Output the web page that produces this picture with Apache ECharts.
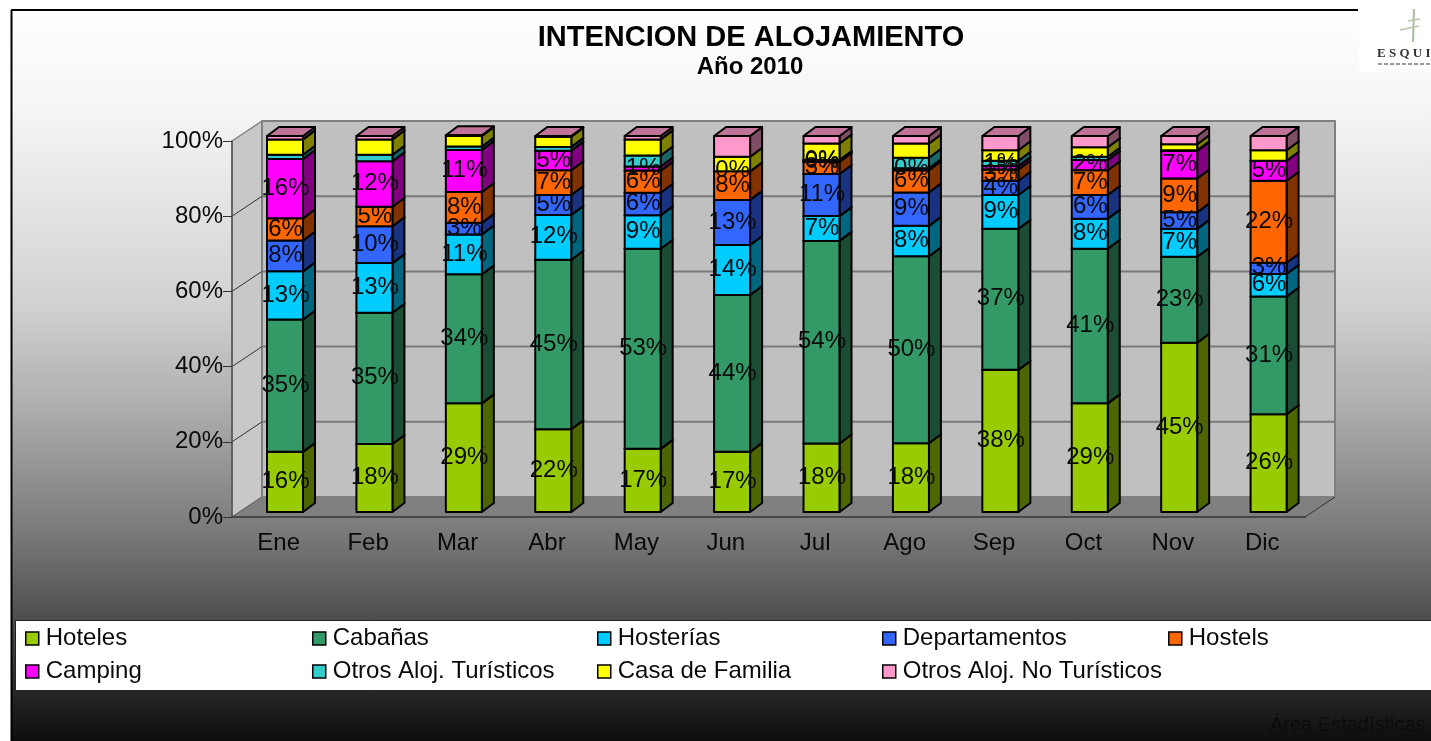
<!DOCTYPE html>
<html>
<head>
<meta charset="utf-8">
<title>Intencion de alojamiento</title>
<script src="https://cdn.jsdelivr.net/npm/echarts@6/dist/echarts.min.js"></script>
<style>
	html, body { margin: 0; padding: 0; background: #fff; overflow: hidden; }
	#chart { width: 1431px; height: 741px; }
</style>
</head>
<body>
<div id="chart"></div>
<script>
var months = [ 'Ene', 'Feb', 'Mar', 'Abr', 'May', 'Jun', 'Jul', 'Ago', 'Sep', 'Oct', 'Nov', 'Dic' ];

// alturas (% del total de cada mes)
var hoteles      = [ 16, 18.1, 28.9, 22, 16.8, 16, 18.2, 18.3, 37.8, 28.9, 45, 26 ];
var cabanas      = [ 35.2, 34.9, 34.3, 45.1, 53.2, 41.7, 53.9, 49.7, 37.5, 41.1, 22.9, 31.3 ];
var hosterias    = [ 12.8, 13.2, 10.6, 11.9, 8.9, 13.3, 6.6, 8.1, 9, 8, 7.4, 6 ];
var departamentos = [ 8.2, 9.8, 3.1, 5.3, 6, 12, 11.2, 8.9, 3.8, 6.3, 4.4, 3 ];
var hostels      = [ 5.9, 5.2, 8.2, 6.6, 5.9, 7.6, 3.2, 5.9, 3, 6.6, 9, 21.8 ];
var camping      = [ 15.8, 12.1, 11.2, 5.2, 1.1, 0, 0.2, 0.5, 0.9, 2.7, 7.3, 5.3 ];
var otrosTur     = [ 1.1, 1.7, 0.9, 1, 2.9, 0, 0.3, 2.8, 1.4, 0.9, 0.2, 0 ];
var casaFamilia  = [ 4.1, 4.1, 2.8, 2.7, 4.3, 3.9, 4.4, 3.8, 2.8, 2.5, 1.6, 2.8 ];
var otrosNoTur   = [ 0.9, 0.9, 0.2, 0.2, 0.9, 5.5, 2, 2, 3.8, 3, 2.2, 3.8 ];

// etiquetas que muestra el grafico (null = sin etiqueta)
var lblHoteles   = [ 16, 18, 29, 22, 17, 17, 18, 18, 38, 29, 45, 26 ];
var lblCabanas   = [ 35, 35, 34, 45, 53, 44, 54, 50, 37, 41, 23, 31 ];
var lblHosterias = [ 13, 13, 11, 12, 9, 14, 7, 8, 9, 8, 7, 6 ];
var lblDeptos    = [ 8, 10, 3, 5, 6, 13, 11, 9, 4, 6, 5, 3 ];
var lblHostels   = [ 6, 5, 8, 7, 6, 8, 3, 6, 3, 7, 9, 22 ];
var lblCamping   = [ 16, 12, 11, 5, 1, 0, 0, 0, 1, 2, 7, 5 ];
var lblOtrosTur  = [ null, null, null, null, null, null, 0, null, 1, null, null, null ];

var stack = [
	{ name : 'Hoteles', values : hoteles, labels : lblHoteles, front : '#99cc00', side : '#4d6600', top : '#739900' },
	{ name : 'Cabañas', values : cabanas, labels : lblCabanas, front : '#339966', side : '#1a4d33', top : '#26734d' },
	{ name : 'Hosterías', values : hosterias, labels : lblHosterias, front : '#00ccff', side : '#006680', top : '#0099bf' },
	{ name : 'Departamentos', values : departamentos, labels : lblDeptos, front : '#3366ff', side : '#1a3380', top : '#264dbf' },
	{ name : 'Hostels', values : hostels, labels : lblHostels, front : '#ff6600', side : '#803300', top : '#bf4d00' },
	{ name : 'Camping', values : camping, labels : lblCamping, front : '#ff00ff', side : '#800080', top : '#bf00bf' },
	{ name : 'Otros Aloj. Turísticos', values : otrosTur, labels : lblOtrosTur, front : '#33cccc', side : '#1a6666', top : '#269999' },
	{ name : 'Casa de Familia', values : casaFamilia, labels : null, front : '#ffff00', side : '#808000', top : '#bfbf00' },
	{ name : 'Otros Aloj. No Turísticos', values : otrosNoTur, labels : null, front : '#ff99cc', side : '#804d66', top : '#bf7399' }
];

var FONT = '"Liberation Sans", Arial, sans-serif';
var WALL_DX = 30, WALL_DY = -20;   // fondo del grafico 3D
var BAR_W = 36, BAR_DX = 12, BAR_DY = -9;   // columna
var BAR_SHIFT_X = 8.3, BAR_SHIFT_Y = -5;   // la columna no esta pegada al plano frontal

function poly(points, fill, stroke, lineWidth) {
	return {
		type : 'polygon',
		shape : { points : points },
		style : { fill : fill, stroke : stroke, lineWidth : lineWidth, lineJoin : 'round' }
	};
}

function renderWalls(params, api) {
	var cs = params.coordSys;
	var x0 = cs.x, x1 = cs.x + cs.width, y0 = cs.y, y1 = cs.y + cs.height;
	var ch = [
		poly([ [ x0, y0 ], [ x0 + WALL_DX, y0 + WALL_DY ], [ x0 + WALL_DX, y1 + WALL_DY ], [ x0, y1 ] ], '#c8c8c8', '#808080', 1.5),
		poly([ [ x0 + WALL_DX, y0 + WALL_DY ], [ x1 + WALL_DX, y0 + WALL_DY ], [ x1 + WALL_DX, y1 + WALL_DY ], [ x0 + WALL_DX, y1 + WALL_DY ] ], '#c0c0c0', '#808080', 2),
		poly([ [ x0, y1 ], [ x0 + WALL_DX, y1 + WALL_DY ], [ x1 + WALL_DX, y1 + WALL_DY ], [ x1, y1 ] ], '#808080', '#808080', 1)
	];
	for (var v = 20; v < 100; v += 20) {
		var y = api.coord([ 0, v ])[1];
		ch.push({
			type : 'line',
			shape : { x1 : x0 + WALL_DX, y1 : y + WALL_DY, x2 : x1 + WALL_DX, y2 : y + WALL_DY },
			style : { stroke : '#7a7a7a', lineWidth : 2 }
		});
		ch.push({
			type : 'line',
			shape : { x1 : x0, y1 : y, x2 : x0 + WALL_DX, y2 : y + WALL_DY },
			style : { stroke : '#333', lineWidth : 1 }
		});
	}
	ch.push({
		type : 'line',
		shape : { x1 : x0, y1 : y1, x2 : x0 + WALL_DX, y2 : y1 + WALL_DY },
		style : { stroke : '#666', lineWidth : 1 }
	});
	ch.push({
		type : 'line',
		shape : { x1 : x1, y1 : y1, x2 : x1 + WALL_DX, y2 : y1 + WALL_DY },
		style : { stroke : '#333', lineWidth : 1 }
	});
	return { type : 'group', children : ch };
}

function makeRenderBar(cfg) {
	return function(params, api) {
		var idx = api.value(0);
		var low = api.coord([ idx, api.value(1) ]);
		var high = api.coord([ idx, api.value(2) ]);
		var ch = [];
		var l = low[0] + BAR_SHIFT_X - BAR_W / 2, r = l + BAR_W;
		var yb = low[1] + BAR_SHIFT_Y, yt = high[1] + BAR_SHIFT_Y;
		if (yb - yt > 0.1) {
			ch.push(poly([ [ r, yb ], [ r + BAR_DX, yb + BAR_DY ], [ r + BAR_DX, yt + BAR_DY ], [ r, yt ] ], cfg.side, '#000', 2));
			ch.push(poly([ [ l, yt ], [ r, yt ], [ r + BAR_DX, yt + BAR_DY ], [ l + BAR_DX, yt + BAR_DY ] ], cfg.top, '#000', 2));
			ch.push(poly([ [ l, yb ], [ r, yb ], [ r, yt ], [ l, yt ] ], cfg.front, '#000', 2));
		}
		var lbl = cfg.labels ? cfg.labels[idx] : null;
		if (lbl !== null && lbl !== undefined) {
			ch.push({
				type : 'text',
				x : l + BAR_W / 2 + 0.5,
				y : (yb + yt) / 2 - 0.5,
				z2 : 100,
				style : {
					text : lbl + '%',
					align : 'center',
					verticalAlign : 'middle',
					fill : '#0a0a0a',
					font : '24px ' + FONT
				}
			});
		}
		return { type : 'group', children : ch };
	};
}

function genSeries() {
	var series = [ {
		type : 'custom',
		silent : true,
		z : 1,
		data : [ [ 0 ] ],
		renderItem : renderWalls
	} ];
	var base = months.map(function() { return 0; });
	stack.forEach(function(cfg) {
		var data = cfg.values.map(function(v, i) {
			var item = [ i, base[i], base[i] + v ];
			base[i] += v;
			return item;
		});
		series.push({
			name : cfg.name,
			type : 'custom',
			z : 2,
			itemStyle : { color : cfg.front },
			encode : { x : 0, y : 2 },
			data : data,
			renderItem : makeRenderBar(cfg)
		});
	});
	return series;
}

// leyenda en 5 columnas y 2 filas
function genLegend() {
	var cols = [ 25, 312, 597, 882, 1168 ];
	return cols.map(function(left, c) {
		var names = [ stack[c].name ];
		if (stack[c + 5]) {
			names.push(stack[c + 5].name);
		}
		return {
			orient : 'vertical',
			left : left,
			top : 626,
			padding : 0,
			itemWidth : 13,
			itemHeight : 13,
			itemGap : 8,
			selectedMode : false,
			icon : 'rect',
			itemStyle : { borderColor : '#000', borderWidth : 1.5 },
			textStyle : { color : '#0a0a0a', fontFamily : FONT, fontSize : 24, padding : [ 0, 0, 0, 2 ], lineHeight : 25 },
			data : names
		};
	});
}

function genGraphic() {
	return { elements : [ {
		type : 'rect',
		z : -2,
		shape : { x : 11, y : 10, width : 1420, height : 731 },
		style : {
			fill : new echarts.graphic.LinearGradient(0, 0, 0, 1, [
				{ offset : 0, color : '#ffffff' },
				{ offset : 0.13, color : '#f6f6f6' },
				{ offset : 0.4, color : '#d2d2d2' },
				{ offset : 0.535, color : '#b0b0b0' },
				{ offset : 0.72, color : '#787878' },
				{ offset : 0.81, color : '#565656' },
				{ offset : 0.94, color : '#242424' },
				{ offset : 1, color : '#0d0d0d' }
			])
		}
	}, {
		type : 'line', z : -1,
		shape : { x1 : 11.5, y1 : 10, x2 : 11.5, y2 : 741 },
		style : { stroke : '#000', lineWidth : 2 }
	}, {
		type : 'line', z : -1,
		shape : { x1 : 11, y1 : 10, x2 : 1358, y2 : 10 },
		style : { stroke : '#000', lineWidth : 2 }
	}, {
		type : 'rect', z : -1,
		shape : { x : 1359, y : 0, width : 72, height : 72 },
		style : { fill : '#fff' }
	}, {
		type : 'rect', z : -1,
		shape : { x : 15.5, y : 620.5, width : 1420, height : 70 },
		style : { fill : '#fff', stroke : '#222', lineWidth : 1 }
	}, {
		// arbolito del logo
		type : 'line', z : 1,
		shape : { x1 : 1414, y1 : 9, x2 : 1413, y2 : 42 },
		style : { stroke : '#a9bd9a', lineWidth : 2 }
	}, {
		type : 'line', z : 1,
		shape : { x1 : 1408, y1 : 21, x2 : 1420, y2 : 19 },
		style : { stroke : '#b7c7ab', lineWidth : 1.5 }
	}, {
		type : 'line', z : 1,
		shape : { x1 : 1400, y1 : 30, x2 : 1419, y2 : 26 },
		style : { stroke : '#b7c7ab', lineWidth : 1.5 }
	}, {
		type : 'text', z : 1,
		x : 1377, y : 47,
		style : { text : 'E S Q U I', fill : '#333', font : 'bold 13px "Liberation Serif", serif' }
	}, {
		type : 'line', z : 1,
		shape : { x1 : 1378, y1 : 64, x2 : 1431, y2 : 64 },
		style : { stroke : '#999', lineWidth : 2, lineDash : [ 4, 2 ] }
	}, {
		type : 'text', z : 1,
		x : 1270, y : 715,
		style : { text : 'Área Estadísticas S', fill : '#0c0c0c', font : '20px ' + FONT }
	} ] };
}

function genOption() {
	return {
		animation : false,
		backgroundColor : '#fff',
		title : [ {
			text : 'INTENCION DE ALOJAMIENTO',
			left : 746,
			top : 18,
			textAlign : 'center',
			textStyle : { color : '#000', fontFamily : FONT, fontWeight : 'bold', fontSize : 29 }
		}, {
			text : 'Año 2010',
			left : 745,
			top : 50,
			textAlign : 'center',
			textStyle : { color : '#000', fontFamily : FONT, fontWeight : 'bold', fontSize : 24 }
		} ],
		legend : genLegend(),
		graphic : genGraphic(),
		grid : { left : 232, right : 126, top : 141, bottom : 224 },
		xAxis : {
			type : 'category',
			data : months,
			z : 3,
			axisLine : { lineStyle : { color : '#333', width : 1.5 } },
			axisTick : { length : 6, alignWithLabel : false, lineStyle : { color : '#333', width : 1 } },
			axisLabel : { color : '#0a0a0a', fontFamily : FONT, fontSize : 24, margin : 14, interval : 0, padding : [ 0, 0, 0, 4 ] }
		},
		yAxis : {
			type : 'value',
			min : 0,
			max : 100,
			interval : 20,
			z : 3,
			splitLine : { show : false },
			axisLine : { show : true, lineStyle : { color : '#555', width : 1.5 } },
			axisTick : { show : true, length : 9, lineStyle : { color : '#333', width : 1 } },
			axisLabel : { color : '#0a0a0a', fontFamily : FONT, fontSize : 24, margin : 9, formatter : '{value}%', padding : [ 3, 0, 0, 0 ] }
		},
		series : genSeries()
	};
}

var chart = echarts.init(document.getElementById('chart'), null, { renderer : 'canvas' });
chart.setOption(genOption());
</script>
</body>
</html>
